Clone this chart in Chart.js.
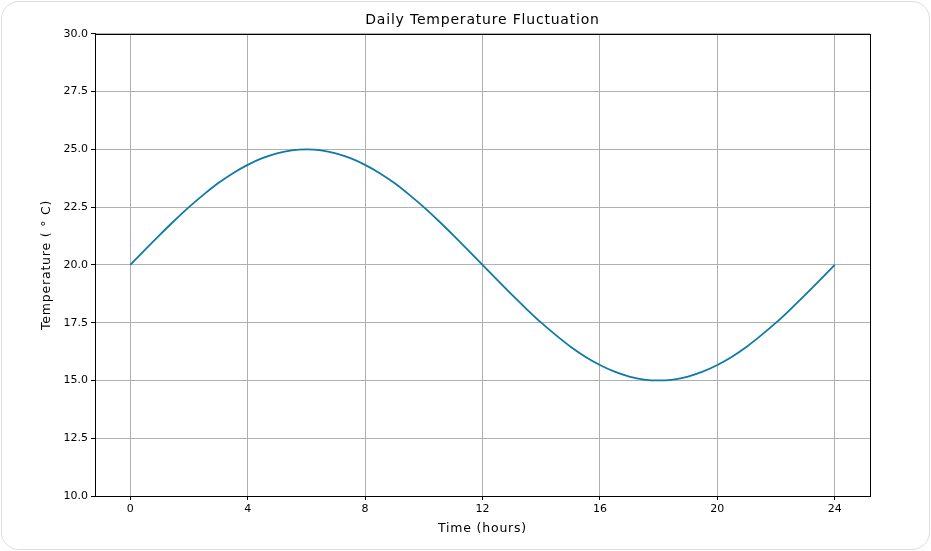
<!DOCTYPE html>
<html>
<head>
<meta charset="utf-8">
<script src="https://cdn.jsdelivr.net/npm/chart.js@4"></script>
<style>
  html, body { margin: 0; padding: 0; background: #ffffff; }
  #card {
    position: absolute; left: 1px; top: 1px; width: 927px; height: 547px;
    border: 1px solid #dddddd; border-radius: 18px; background: #fff;
  }
  #wrap { position: absolute; left: 0; top: 0; width: 931px; height: 551px; }
</style>
</head>
<body>
<div id="card"></div>
<div id="wrap"><canvas id="myChart"></canvas></div>
<script>
// hours of the day, half hour steps
let hours = [0, 0.5, 1, 1.5, 2, 2.5, 3, 3.5, 4, 4.5, 5, 5.5, 6, 6.5, 7, 7.5, 8, 8.5, 9, 9.5,
    10, 10.5, 11, 11.5, 12, 12.5, 13, 13.5, 14, 14.5, 15, 15.5, 16, 16.5, 17, 17.5, 18, 18.5,
    19, 19.5, 20, 20.5, 21, 21.5, 22, 22.5, 23, 23.5, 24];
let temps = [20.00, 20.65, 21.29, 21.91, 22.50, 23.04, 23.54, 23.97, 24.33, 24.62, 24.83, 24.96,
    25.00, 24.96, 24.83, 24.62, 24.33, 23.97, 23.54, 23.04, 22.50, 21.91, 21.29, 20.65,
    20.00, 19.35, 18.71, 18.09, 17.50, 16.96, 16.46, 16.03, 15.67, 15.38, 15.17, 15.04,
    15.00, 15.04, 15.17, 15.38, 15.67, 16.03, 16.46, 16.96, 17.50, 18.09, 18.71, 19.35, 20.00];
let xTicks = [0, 4, 8, 12, 16, 20, 24];

let font = '"DejaVu Sans", sans-serif';
Chart.defaults.font.family = font;
Chart.defaults.color = '#000';

// titles get a little letter spacing (drawn before the datasets), tick labels none
let spacing = {
    id: 'spacing',
    beforeDraw(chart) { chart.ctx.letterSpacing = '0.8px'; },
    beforeDatasetsDraw(chart) { chart.ctx.letterSpacing = '0px'; }
};

// black frame around the plot, like the axes box
let frame = {
    id: 'frame',
    afterDatasetsDraw(chart) {
        let a = chart.chartArea, c = chart.ctx;
        c.save();
        c.strokeStyle = '#000';
        c.lineWidth = 1;
        c.strokeRect(Math.round(a.left) + 0.5, Math.round(a.top) + 0.5,
            Math.round(a.right - a.left), Math.round(a.bottom - a.top));
        c.restore();
    }
};

let ctx = document.getElementById('myChart').getContext('2d');
let myChart = new Chart(ctx, {
    type: 'line',
    data: {
        datasets: [{
            data: hours.map((h, i) => ({ x: h, y: temps[i] })),
            borderColor: '#0e7aa6',
            borderWidth: 1.8,
            pointRadius: 0,
            fill: false,
            cubicInterpolationMode: 'monotone'
        }]
    },
    plugins: [spacing, frame],
    options: {
        responsive: true,
        maintainAspectRatio: false,
        animation: false,
        layout: { padding: { left: 0, right: 61, top: 0, bottom: 0 } },
        plugins: {
            legend: { display: false },
            tooltip: { enabled: false },
            title: {
                display: true,
                fullSize: false,
                text: 'Daily Temperature Fluctuation',
                font: { size: 14, weight: 'normal', family: font },
                color: '#000',
                padding: { top: 12, bottom: 5 }
            }
        },
        scales: {
            x: {
                type: 'linear',
                min: -1.2,
                max: 25.2,
                afterBuildTicks: function(scale) {
                    scale.ticks = xTicks.map(v => ({ value: v }));
                },
                afterFit: function(scale) { scale.height = 55; },
                ticks: { font: { size: 11 }, padding: 3, maxRotation: 0, z: 1 },
                grid: { color: '#b0b0b0', lineWidth: 1, tickLength: 4, tickColor: '#000' },
                border: { color: '#000', width: 1 },
                title: { display: true, text: 'Time (hours)', font: { size: 12.5 }, padding: { top: 2, bottom: 15 } }
            },
            y: {
                min: 10,
                max: 30,
                ticks: {
                    stepSize: 2.5,
                    font: { size: 11 },
                    padding: 3,
                    z: 1,
                    callback: v => v.toFixed(1)
                },
                afterFit: function(scale) { scale.width = 95; },
                grid: { color: '#b0b0b0', lineWidth: 1, tickLength: 4, tickColor: '#000' },
                border: { color: '#000', width: 1 },
                title: { display: true, text: 'Temperature ( ° C)', font: { size: 12.5 }, padding: { top: 39, bottom: 0 } }
            }
        }
    }
});
</script>
</body>
</html>
